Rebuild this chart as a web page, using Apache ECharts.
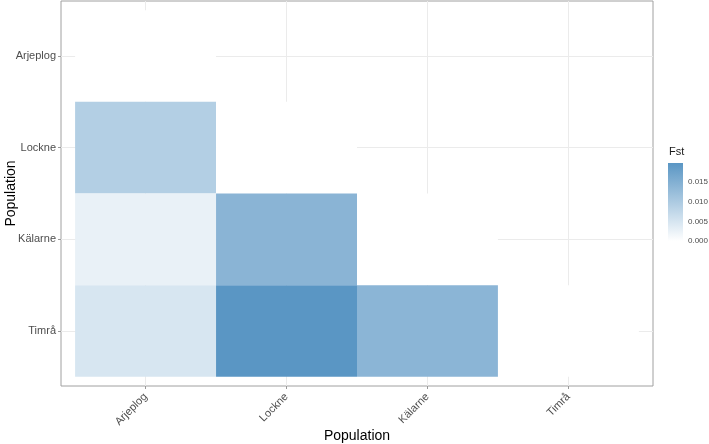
<!DOCTYPE html>
<html>
<head>
<meta charset="utf-8">
<script src="https://cdn.jsdelivr.net/npm/echarts@6/dist/echarts.min.js"></script>
<style>html,body{margin:0;padding:0;background:#fff}#c{width:709px;height:444px}</style>
</head>
<body>
<div id="c"></div>
<script>
// Categories (x: columns, y: rows, top to bottom)
const xCategories = ['Arjeplog', 'Lockne', 'Kälarne', 'Timrå'];
const yCategories = ['Arjeplog', 'Lockne', 'Kälarne', 'Timrå'];
// Fst values, one row per y category (lower triangle incl. diagonal)
const rowArjeplog = [0];
const rowLockne   = [0.0091, 0];
const rowKalarne  = [0.0027, 0.0141, 0];
const rowTimra    = [0.0048, 0.0198, 0.0139, 0];
const legendTicks = [0, 0.005, 0.010, 0.015];
const fstMax = 0.0198;

const rows = [rowArjeplog, rowLockne, rowKalarne, rowTimra];
const cells = [];
rows.forEach((row, yi) => row.forEach((v, xi) => cells.push([xi + 1, yi + 1, v])));

const lowColor = '#ffffff', highColor = '#5a96c4';
const font = 'Liberation Sans, Arial, sans-serif';
const idx = [1, 2, 3, 4];

const chart = echarts.init(document.getElementById('c'), null, {renderer: 'canvas'});
chart.setOption({
  animation: false,
  backgroundColor: '#ffffff',
  textStyle: {fontFamily: font},
  title: {text: 'Fst', left: 669, top: 146, padding: 0,
    textStyle: {fontSize: 11, fontWeight: 'normal', color: '#1a1a1a', fontFamily: font}},
  grid: [
    {left: 61, right: 56, top: 1, bottom: 58, containLabel: false, outerBoundsMode: 'none',
      show: true, borderColor: '#a0a0a0', borderWidth: 1, backgroundColor: 'transparent'},
    {left: 668, width: 15, top: 163, height: 78, containLabel: false, outerBoundsMode: 'none'}
  ],
  visualMap: {type: 'continuous', show: false, seriesIndex: 0, dimension: 2, min: 0, max: fstMax,
    inRange: {color: [lowColor, highColor]}},
  xAxis: [
    {type: 'value', gridIndex: 0, min: 0.4, max: 4.6,
      name: 'Population', nameLocation: 'middle', nameGap: 43, nameMoveOverlap: false,
      nameTextStyle: {fontSize: 14, color: '#000', fontFamily: font},
      axisLine: {show: false},
      axisTick: {show: true, length: 3, customValues: idx, lineStyle: {color: '#9a9a9a'}},
      axisLabel: {customValues: idx, rotate: 45, margin: 9, fontSize: 11, color: '#4d4d4d', fontFamily: font,
        formatter: v => xCategories[Math.round(v) - 1] || ''},
      splitLine: {show: true, lineStyle: {color: '#ebebeb', width: 1}}},
    {type: 'value', gridIndex: 1, min: 0, max: 1, show: false}
  ],
  yAxis: [
    {type: 'value', gridIndex: 0, min: 0.4, max: 4.6, inverse: true,
      name: 'Population', nameLocation: 'middle', nameGap: 43, nameMoveOverlap: false,
      nameTextStyle: {fontSize: 14, color: '#000', fontFamily: font},
      axisLine: {show: false},
      axisTick: {show: true, length: 3, customValues: idx, lineStyle: {color: '#9a9a9a'}},
      axisLabel: {customValues: idx, margin: 5, fontSize: 11, color: '#4d4d4d', fontFamily: font,
        formatter: v => yCategories[Math.round(v) - 1] || ''},
      splitLine: {show: true, lineStyle: {color: '#ebebeb', width: 1}}},
    {type: 'value', gridIndex: 1, min: 0, max: fstMax, position: 'right',
      axisLine: {show: false},
      axisTick: {show: true, inside: true, length: 3, customValues: legendTicks, lineStyle: {color: '#ffffff', width: 1}},
      axisLabel: {customValues: legendTicks, margin: 5, fontSize: 8, color: '#4d4d4d', fontFamily: font,
        formatter: v => v.toFixed(3)},
      splitLine: {show: false}},
    {type: 'value', gridIndex: 1, min: 0, max: fstMax, position: 'left',
      axisLine: {show: false}, axisLabel: {show: false}, splitLine: {show: false},
      axisTick: {show: true, inside: true, length: 3, customValues: legendTicks, lineStyle: {color: '#ffffff', width: 1}}}
  ],
  series: [
    {type: 'custom', xAxisIndex: 0, yAxisIndex: 0, data: cells, z: 2,
      renderItem: (params, api) => {
        const x = api.value(0), y = api.value(1);
        const p1 = api.coord([x - 0.5, y - 0.5]);
        const p2 = api.coord([x + 0.5, y + 0.5]);
        return {type: 'rect',
          shape: {x: Math.min(p1[0], p2[0]), y: Math.min(p1[1], p2[1]),
                  width: Math.abs(p2[0] - p1[0]), height: Math.abs(p2[1] - p1[1])},
          style: {fill: api.visual('color')}};
      }},
    {type: 'custom', xAxisIndex: 1, yAxisIndex: 1, data: [[0, fstMax]], z: 1,
      renderItem: (params, api) => {
        const p1 = api.coord([0, api.value(1)]);
        const p2 = api.coord([1, 0]);
        return {type: 'rect',
          shape: {x: p1[0], y: p1[1], width: p2[0] - p1[0], height: p2[1] - p1[1]},
          style: {fill: new echarts.graphic.LinearGradient(0, 0, 0, 1, [
            {offset: 0, color: highColor}, {offset: 1, color: lowColor}])}};
      }}
  ]
});
</script>
</body>
</html>
